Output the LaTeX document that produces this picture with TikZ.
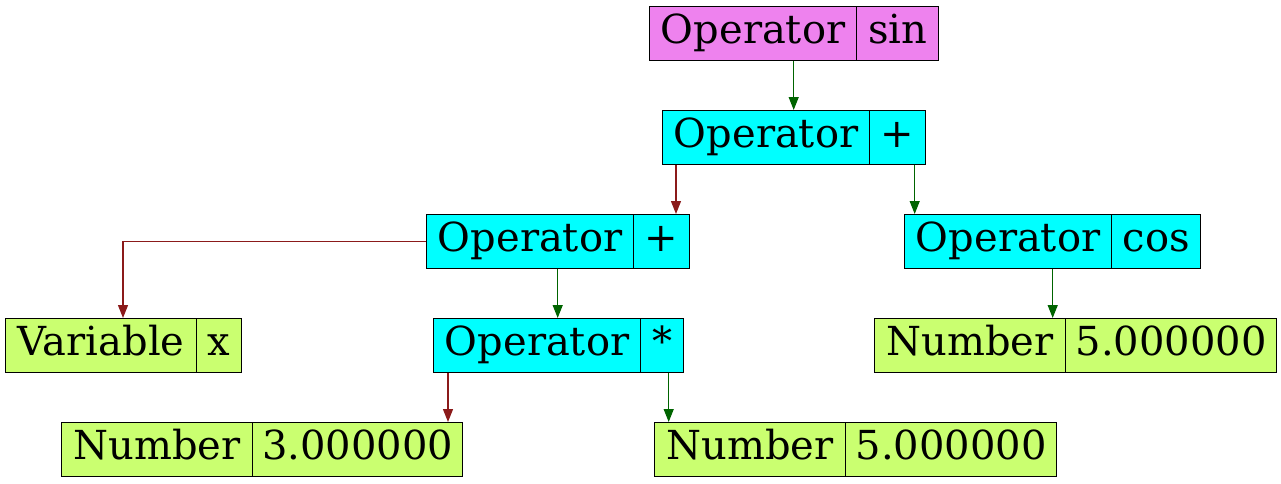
\documentclass[tikz,border=0pt]{standalone}
\usepackage{fontspec}
\setmainfont{DejaVu Serif}
\usetikzlibrary{arrows.meta}
\definecolor{opviolet}{HTML}{EE82EE}
\definecolor{opcyan}{HTML}{00FFFF}
\definecolor{leafgreen}{HTML}{CAFF70}
\definecolor{edgered}{HTML}{8B1A1A}
\definecolor{edgegreen}{HTML}{006400}
\tikzset{
  fld/.style={draw=black, line width=1.2pt, anchor=north west, inner xsep=0pt, inner ysep=0pt,
    minimum height=54pt, text height=36.7pt, text depth=17.3pt,
    font=\fontsize{40}{48}\selectfont},
  rootf/.style={fld, fill=opviolet},
  opf/.style={fld, fill=opcyan},
  leaff/.style={fld, fill=leafgreen},
  conn/.style={line width=1.3pt},
  lconn/.style={conn, draw=edgered, -{Triangle[length=13pt,width=10pt,fill=edgered]}},
  rconn/.style={conn, draw=edgegreen, -{Triangle[length=13pt,width=10pt,fill=edgegreen]}},
}
\begin{document}
\begin{tikzpicture}[x=1pt,y=-1pt]
\useasboundingbox (0,0) rectangle (1281,483);
% root sin
\node[rootf, minimum width=207pt] (n1a) at (649,6) {Operator};
\node[rootf, minimum width=82pt] (n1b) at (856,6) {sin};
% plus top
\node[opf, minimum width=207pt] (n2a) at (662,110) {Operator};
\node[opf, minimum width=56pt] (n2b) at (869,110) {+};
% plus left
\node[opf, minimum width=207pt] (n3a) at (426,214) {Operator};
\node[opf, minimum width=56pt] (n3b) at (633,214) {+};
% cos
\node[opf, minimum width=207pt] (n4a) at (904,214) {Operator};
\node[opf, minimum width=89pt] (n4b) at (1111,214) {cos};
% variable x
\node[leaff, minimum width=191pt] (n5a) at (5,318) {Variable};
\node[leaff, minimum width=45pt] (n5b) at (196,318) {x};
% operator *
\node[opf, minimum width=207pt] (n6a) at (433,318) {Operator};
\node[opf, minimum width=43pt] (n6b) at (640,318) {*};
% number 5 right
\node[leaff, minimum width=191pt] (n7a) at (874,318) {Number};
\node[leaff, minimum width=211pt] (n7b) at (1065,318) {5.000000};
% number 3
\node[leaff, minimum width=191pt] (n8a) at (61,422) {Number};
\node[leaff, minimum width=210pt] (n8b) at (252,422) {3.000000};
% number 5 bottom
\node[leaff, minimum width=191pt] (n9a) at (654,422) {Number};
\node[leaff, minimum width=211pt] (n9b) at (845,422) {5.000000};
% connectors
\draw[rconn] (n1a.south -| 793.7,0) -- (n2a.north -| 793.7,0);
\draw[lconn] (n2a.south -| 676,0) -- (n3b.north -| 676,0);
\draw[rconn] (n2b.south -| 914.7,0) -- (n4a.north -| 914.7,0);
\draw[lconn] (n3a.west) -| (n5a.north -| 123,0);
\draw[rconn] (n3a.south -| 557.7,0) -- (n6a.north -| 557.7,0);
\draw[rconn] (n4a.south -| 1052.7,0) -- (n7a.north -| 1052.7,0);
\draw[lconn] (n6a.south -| 448,0) -- (n8b.north -| 448,0);
\draw[rconn] (n6b.south -| 668.7,0) -- (n9a.north -| 668.7,0);
\end{tikzpicture}
\end{document}
